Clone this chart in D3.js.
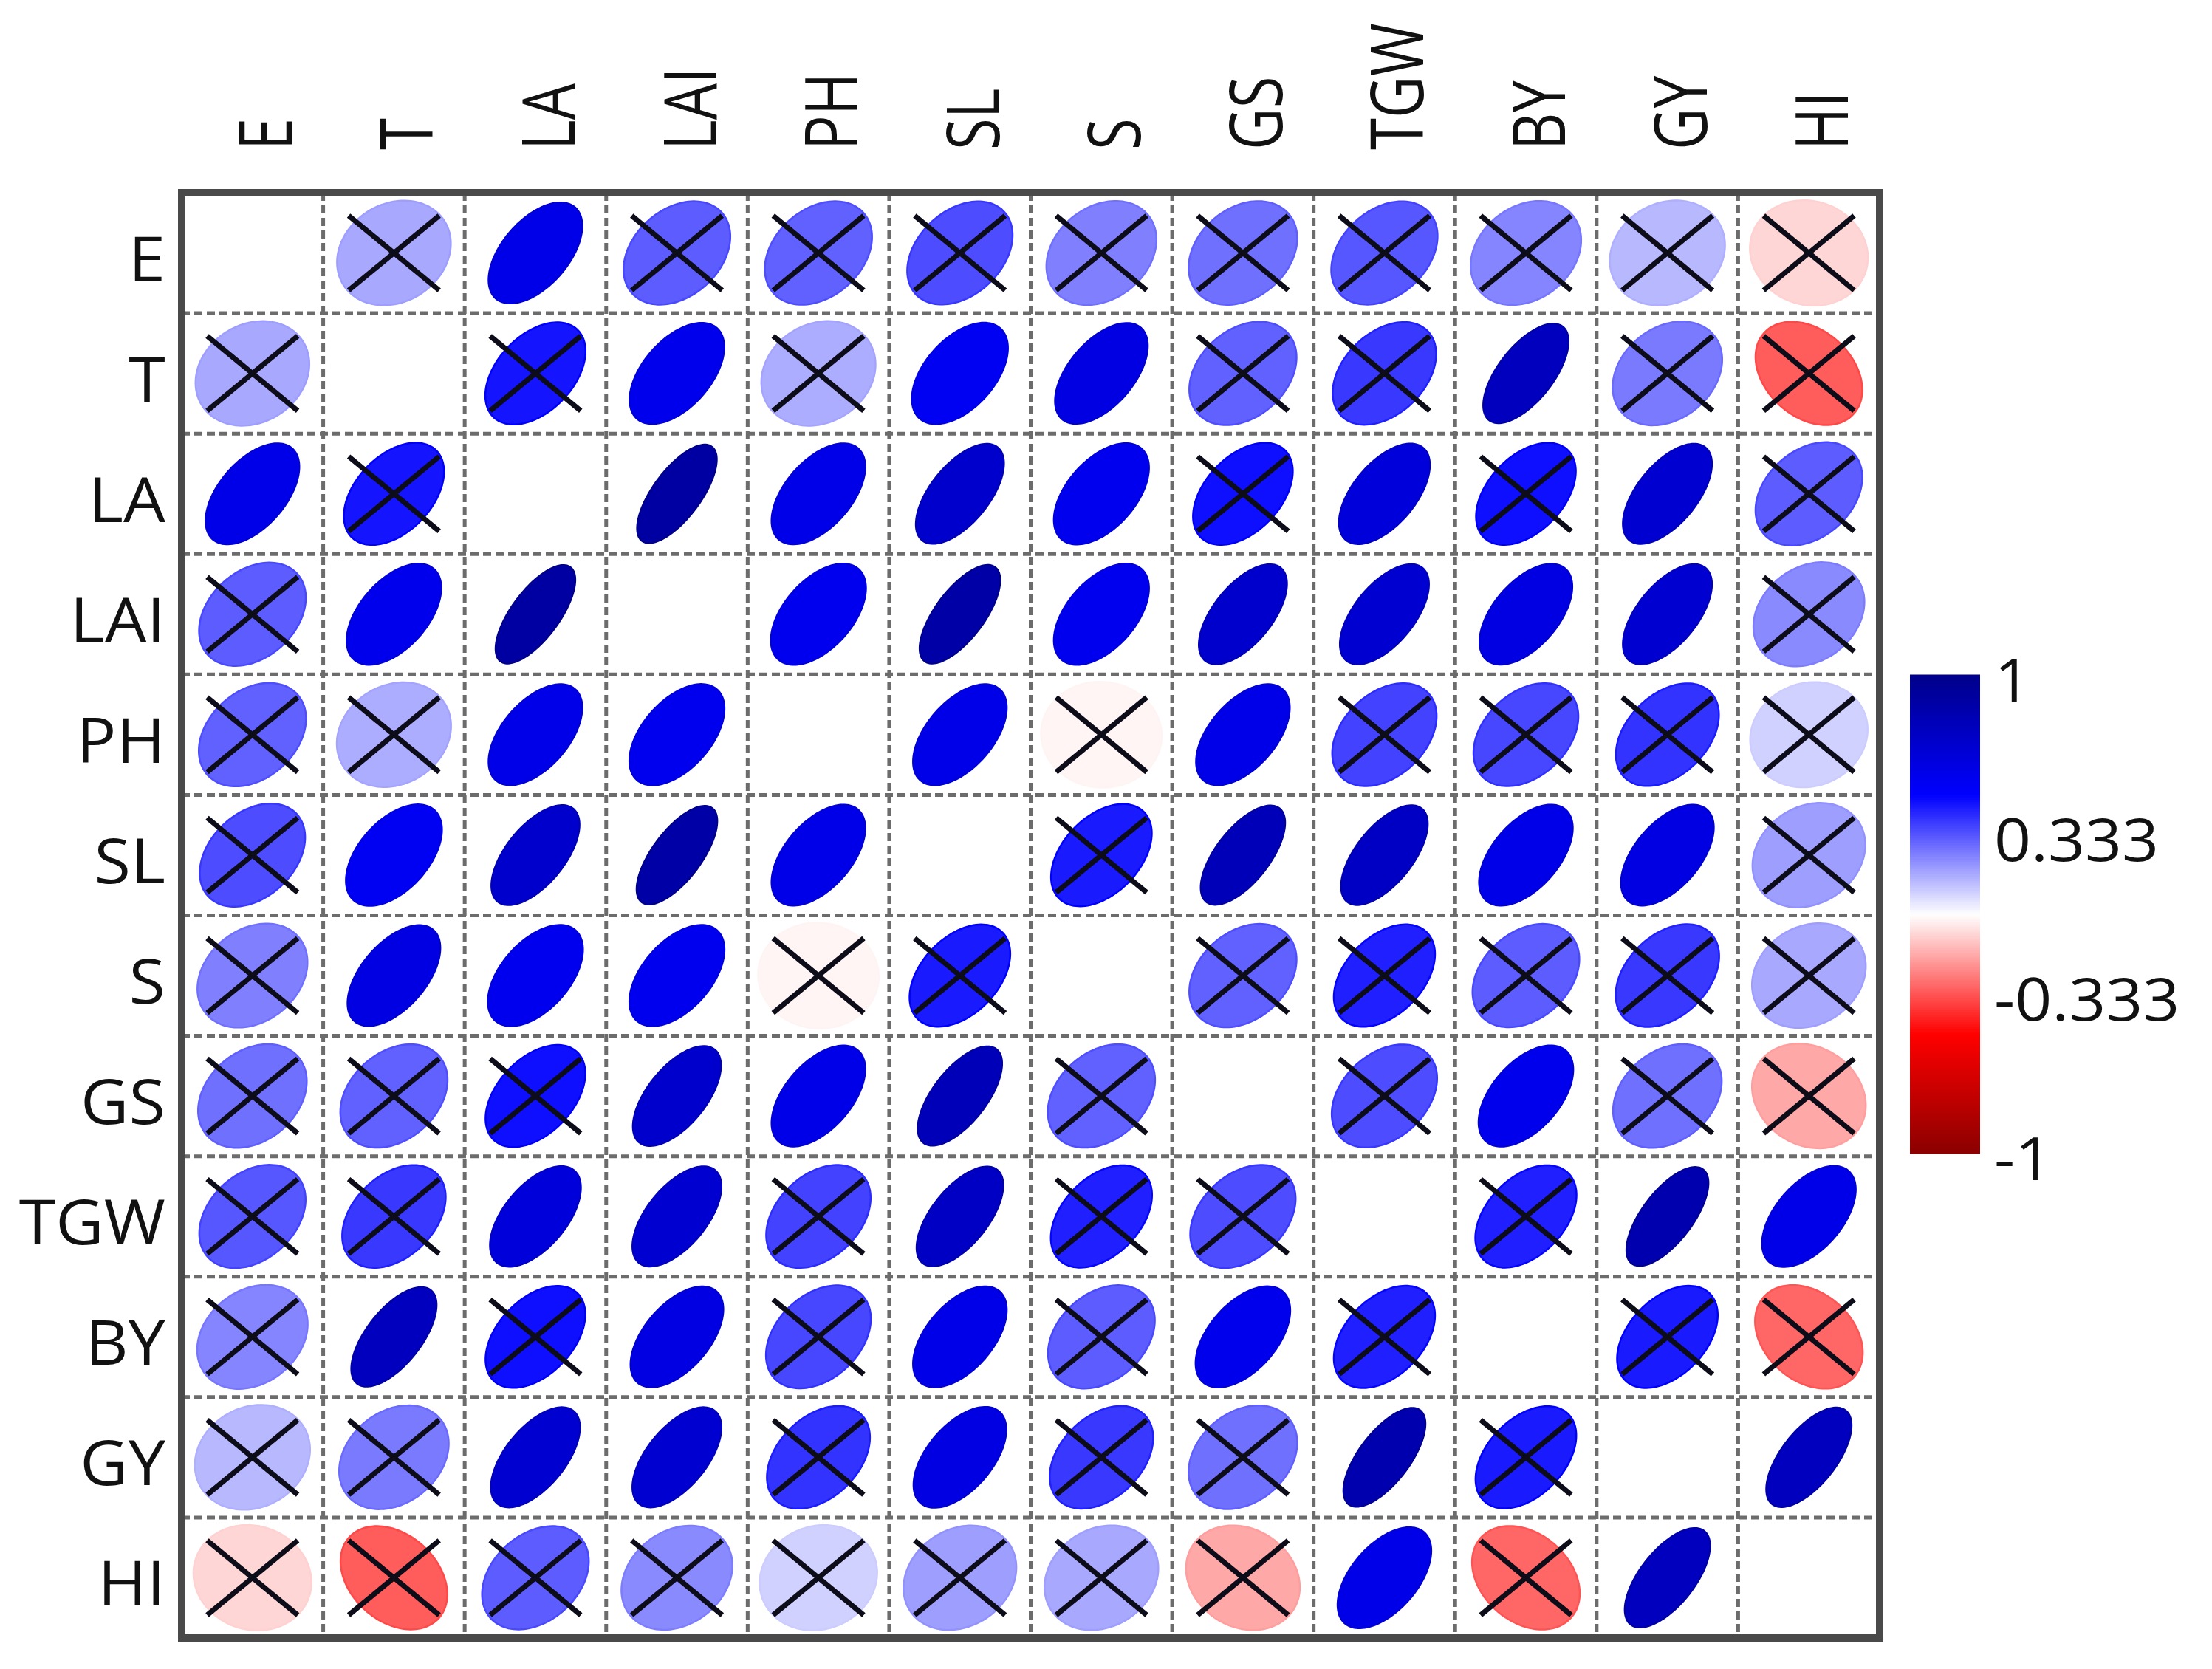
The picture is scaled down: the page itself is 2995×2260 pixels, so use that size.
<!DOCTYPE html>
<html>
<head>
<meta charset="utf-8">
<script src="https://cdn.jsdelivr.net/npm/d3@7/dist/d3.min.js"></script>
<style>
body { margin: 0; background: #fff; }
text { font-family: "Open Sans", "Liberation Sans", sans-serif; fill: #111; }
</style>
</head>
<body>
<svg id="chart" width="2995" height="2260"></svg>
<script>
// variables, in row/column order
var vars = ["E", "T", "LA", "LAI", "PH", "SL", "S", "GS", "TGW", "BY", "GY", "HI"];

var corrE   = [0.17, 0.60, 0.32, 0.31, 0.35, 0.25, 0.28, 0.33, 0.24, 0.14, -0.08];
var corrT   = [0.46, 0.58, 0.16, 0.55, 0.62, 0.31, 0.39, 0.78, 0.26, -0.32];
var corrLA  = [0.90, 0.60, 0.72, 0.57, 0.47, 0.66, 0.47, 0.70, 0.32];
var corrLAI = [0.57, 0.88, 0.57, 0.72, 0.70, 0.62, 0.70, 0.23];
var corrPH  = [0.60, -0.02, 0.60, 0.37, 0.36, 0.40, 0.09];
var corrSL  = [0.45, 0.80, 0.75, 0.60, 0.62, 0.19];
var corrS   = [0.31, 0.44, 0.32, 0.39, 0.17];
var corrGS  = [0.35, 0.58, 0.28, -0.17];
var corrTGW = [0.44, 0.85, 0.60];
var corrBY  = [0.45, -0.30];
var corrGY  = [0.78];

// 1 = significant, 0 = crossed out
var sigE   = [0, 1, 0, 0, 0, 0, 0, 0, 0, 0, 0];
var sigT   = [0, 1, 0, 1, 1, 0, 0, 1, 0, 0];
var sigLA  = [1, 1, 1, 1, 0, 1, 0, 1, 0];
var sigLAI = [1, 1, 1, 1, 1, 1, 1, 0];
var sigPH  = [1, 0, 1, 0, 0, 0, 0];
var sigSL  = [0, 1, 1, 1, 1, 0];
var sigS   = [0, 0, 0, 0, 0];
var sigGS  = [0, 1, 0, 0];
var sigTGW = [0, 1, 1];
var sigBY  = [0, 0];
var sigGY  = [1];

var legendTicks = [1, 0.333, -0.333, -1];

var upperR = [corrE, corrT, corrLA, corrLAI, corrPH, corrSL, corrS, corrGS, corrTGW, corrBY, corrGY];
var upperS = [sigE, sigT, sigLA, sigLAI, sigPH, sigSL, sigS, sigGS, sigTGW, sigBY, sigGY];

// build symmetric cell list
var cells = [];
vars.forEach(function (rv, i) {
    vars.forEach(function (cv, j) {
        if (i === j) return;
        var a = Math.min(i, j), b = Math.max(i, j);
        cells.push({
            row: rv,
            col: cv,
            r: upperR[a][b - a - 1],
            sig: upperS[a][b - a - 1]
        });
    });
});

var svg = d3.select("#chart");

var plotLeft = 246, plotRight = 2545, plotTop = 261, plotBottom = 2218;
var x = d3.scaleBand().domain(vars).range([plotLeft, plotRight]);
var y = d3.scaleBand().domain(vars).range([plotTop, plotBottom]);
var W = x.bandwidth(), H = y.bandwidth();

var color = d3.scaleLinear()
    .domain([-1, -0.5, 0, 0.5, 1])
    .range(["#8B0000", "#FF0000", "#FFFFFF", "#0000FF", "#00008B"])
    .clamp(true);

// grid (inner dashed lines)
var grid = svg.append("g");
grid.selectAll("line.v")
    .data(vars.slice(1))
    .enter()
    .append("line")
    .attr("class", "v")
    .attr("x1", function (d) { return x(d); })
    .attr("x2", function (d) { return x(d); })
    .attr("y1", plotTop)
    .attr("y2", plotBottom);
grid.selectAll("line.h")
    .data(vars.slice(1))
    .enter()
    .append("line")
    .attr("class", "h")
    .attr("x1", plotLeft)
    .attr("x2", plotRight)
    .attr("y1", function (d) { return y(d); })
    .attr("y2", function (d) { return y(d); });
grid.selectAll("line")
    .attr("stroke", "#6c6c6c")
    .attr("stroke-width", 5)
    .attr("stroke-dasharray", "11,6");

// ellipse outline for one cell
var line = d3.line().curve(d3.curveLinearClosed);
function ellipsePath(d) {
    var cx = x(d.col) + W / 2, cy = y(d.row) + H / 2;
    var a = Math.abs(d.r);
    var hx = W * (0.43 - 0.165 * a),
        hy = H * (0.44 - 0.035 * a),
        rho = d.r * (1.12 - 0.38 * a),
        phi = Math.acos(rho) / 2;
    var pts = d3.range(0, 2 * Math.PI, Math.PI / 60).map(function (k) {
        return [cx + hx * Math.cos(k + phi), cy - hy * Math.cos(k - phi)];
    });
    return line(pts);
}

svg.append("g").selectAll("path")
    .data(cells)
    .enter()
    .append("path")
    .attr("d", ellipsePath)
    .attr("fill", function (d) { return color(d.r); })
    .attr("stroke", function (d) { return color(d.r * 1.12); })
    .attr("stroke-width", 2.5);

// crosses on non-significant cells
var crosses = svg.append("g")
    .attr("stroke", "#0d0d1a")
    .attr("stroke-width", 7);
crosses.selectAll("path")
    .data(cells.filter(function (d) { return !d.sig; }))
    .enter()
    .append("path")
    .attr("d", function (d) {
        var cx = x(d.col) + W / 2, cy = y(d.row) + H / 2;
        var dx = 0.32 * W, dy = 0.31 * H;
        return "M" + (cx - dx) + "," + (cy - dy) + "L" + (cx + dx) + "," + (cy + dy) +
            "M" + (cx - dx) + "," + (cy + dy) + "L" + (cx + dx) + "," + (cy - dy);
    });

// frame
svg.append("rect")
    .attr("x", plotLeft)
    .attr("y", plotTop)
    .attr("width", plotRight - plotLeft)
    .attr("height", plotBottom - plotTop)
    .attr("fill", "none")
    .attr("stroke", "#4a4a4a")
    .attr("stroke-width", 10);

// row labels
svg.append("g").selectAll("text")
    .data(vars)
    .enter()
    .append("text")
    .attr("transform", function (d) {
        return "translate(224," + (y(d) + H / 2 + 38) + ") scale(1.06,1)";
    })
    .attr("text-anchor", "end")
    .attr("font-size", 85)
    .text(function (d) { return d; });

// column labels
svg.append("g").selectAll("text")
    .data(vars)
    .enter()
    .append("text")
    .attr("transform", function (d) {
        return "translate(" + (x(d) + W / 2 + 53) + ",203) scale(1.26,1) rotate(-90)";
    })
    .attr("text-anchor", "start")
    .attr("font-size", 78)
    .text(function (d) { return d; });

// colour legend
var ly = d3.scaleLinear().domain([-1, 1]).range([1562, 914]);
var steps = d3.range(-1, 1, 0.01);
svg.append("g").selectAll("rect")
    .data(steps)
    .enter()
    .append("rect")
    .attr("x", 2586)
    .attr("width", 95)
    .attr("y", function (d) { return ly(d + 0.01) - 0.5; })
    .attr("height", ly(-1) - ly(-0.99) + 1)
    .attr("fill", function (d) { return color(d + 0.005); });

svg.append("g").selectAll("text")
    .data(legendTicks)
    .enter()
    .append("text")
    .attr("transform", function (d) {
        return "translate(2700," + (ly(d) + 36) + ") scale(1.08,1)";
    })
    .attr("font-size", 81)
    .text(function (d) { return d; });
</script>
</body>
</html>
